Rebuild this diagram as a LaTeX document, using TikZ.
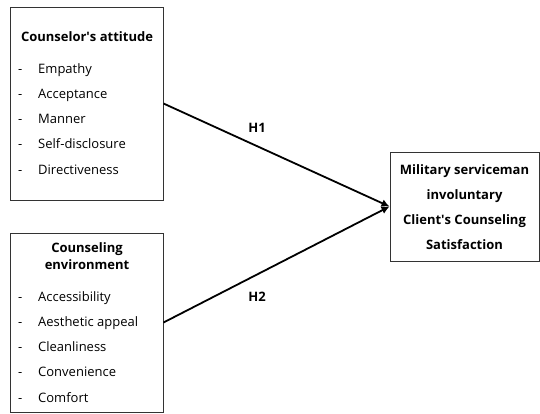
\documentclass[tikz,border=0pt]{standalone}
\usepackage{fontspec}
\setmainfont{Open Sans}
\usetikzlibrary{arrows.meta}
\newcommand{\itemdash}{\makebox[20bp][l]{-}}
\tikzset{box/.style={draw=black!80, line width=1bp, inner sep=0pt},
  heading/.style={font=\fontsize{13bp}{17bp}\selectfont\bfseries, inner sep=0pt, text height=9.5bp, text depth=3bp},
  listitem/.style={font=\fontsize{13bp}{15bp}\selectfont, anchor=west, inner sep=0pt, text height=9.5bp, text depth=3bp},
  link/.style={line width=1.8bp, -{Latex[length=8bp,width=8bp]}}}

\begin{document}
\begin{tikzpicture}[x=1bp,y=-1bp]
\useasboundingbox (0,0) rectangle (540,413);
% independent variables
\node[box, minimum width=152bp, minimum height=193bp] (attitude) at (87,103.5) {};
\node[heading] (attTitle) at (87,38) {Counselor\textquotesingle s attitude};
\node[listitem] (empathy) at (18,70) {\itemdash Empathy};
\node[listitem] (acceptance) at (18,95) {\itemdash Acceptance};
\node[listitem] (manner) at (18,120) {\itemdash Manner};
\node[listitem] (disclosure) at (18,145) {\itemdash Self-disclosure};
\node[listitem] (directive) at (18,171) {\itemdash Directiveness};

\node[box, minimum width=152bp, minimum height=179bp] (environment) at (87,322.5) {};
\node[heading] (envTitle) at (87,249) {Counseling};
\node[heading] (envTitleB) at (87,266) {environment};
\node[listitem] (access) at (18,298) {\itemdash Accessibility};
\node[listitem] (aesthetic) at (18,323) {\itemdash Aesthetic\ appeal};
\node[listitem] (clean) at (18,348) {\itemdash Cleanliness};
\node[listitem] (convenience) at (18,373) {\itemdash Convenience};
\node[listitem] (comfort) at (18,399) {\itemdash Comfort};

% dependent variable
\node[box, minimum width=149bp, minimum height=109bp] (satisfaction) at (464.5,206.5) {};
\node[heading] (sat1) at (464.5,171) {Military\ serviceman};
\node[heading] (sat2) at (464.5,196) {involuntary};
\node[heading] (sat3) at (464.5,221) {Client\textquotesingle s Counseling};
\node[heading] (sat4) at (464.5,246) {Satisfaction};

% hypotheses
\draw[link] (attitude.east) -- (satisfaction.west);
\draw[link] (environment.east) -- (satisfaction.west);
\node[heading] (h1) at (257,129) {H1};
\node[heading] (h2) at (257,298) {H2};
\end{tikzpicture}
\end{document}
